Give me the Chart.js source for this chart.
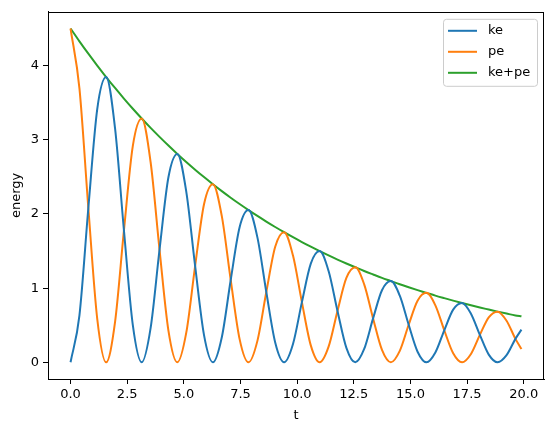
<!DOCTYPE html>
<html>
<head>
<meta charset="utf-8">
<script src="https://cdn.jsdelivr.net/npm/chart.js@4"></script>
<style>
  html, body { margin: 0; padding: 0; background: #fff; }
  #wrap { width: 554px; height: 432px; }
</style>
</head>
<body>
<div id="wrap"><canvas id="energyChart" width="554" height="432"></canvas></div>
<script>
// sample times (read along the t axis)
const tValues = [0, 0.3927, 0.7854, 1.1781, 1.5708, 1.9635, 2.3562, 2.7489, 3.1416, 3.5343,
  3.927, 4.3197, 4.7124, 5.1051, 5.4978, 5.8905, 6.2832, 6.6759, 7.0686, 7.4613,
  7.854, 8.2467, 8.6394, 9.0321, 9.4248, 9.8175, 10.2102, 10.6029, 10.9956, 11.3883,
  11.781, 12.1737, 12.5664, 12.9591, 13.3518, 13.7445, 14.1372, 14.5299, 14.9226, 15.3153,
  15.708, 16.1007, 16.4934, 16.8861, 17.2788, 17.6715, 18.0642, 18.4569, 18.8496, 19.2423,
  19.635, 19.9];

const keValues = [0, 0.634, 2.080, 3.414, 3.846, 3.156, 1.778, 0.501, 0, 0.463,
  1.519, 2.494, 2.809, 2.305, 1.299, 0.366, 0, 0.338, 1.110, 1.821,
  2.052, 1.684, 0.948, 0.267, 0, 0.247, 0.811, 1.330, 1.499, 1.230,
  0.693, 0.195, 0, 0.180, 0.592, 0.972, 1.095, 0.898, 0.506, 0.143,
  0, 0.132, 0.432, 0.710, 0.800, 0.656, 0.370, 0.104, 0, 0.096,
  0.316, 0.44];

const peValues = [4.5, 3.693, 2.080, 0.586, 0, 0.542, 1.778, 2.918, 3.287, 2.697,
  1.519, 0.428, 0, 0.396, 1.298, 2.131, 2.401, 1.970, 1.110, 0.313,
  0, 0.289, 0.948, 1.557, 1.754, 1.439, 0.811, 0.228, 0, 0.211,
  0.693, 1.137, 1.281, 1.051, 0.592, 0.167, 0, 0.154, 0.506, 0.830,
  0.936, 0.768, 0.432, 0.122, 0, 0.113, 0.370, 0.607, 0.683, 0.561,
  0.316, 0.18];

const totalValues = [4.5, 4.327, 4.160, 4.000, 3.846, 3.698, 3.555, 3.418, 3.287, 3.160,
  3.039, 2.922, 2.809, 2.701, 2.597, 2.497, 2.401, 2.308, 2.219, 2.134,
  2.052, 1.973, 1.897, 1.824, 1.754, 1.686, 1.621, 1.559, 1.499, 1.441,
  1.385, 1.332, 1.281, 1.231, 1.184, 1.138, 1.095, 1.052, 1.012, 0.973,
  0.936, 0.899, 0.865, 0.832, 0.800, 0.769, 0.739, 0.711, 0.683, 0.657,
  0.632, 0.62];

const xTicks = [0, 2.5, 5, 7.5, 10, 12.5, 15, 17.5, 20];
const yTicks = [0, 1, 2, 3, 4];

const seriesNames = ["ke", "pe", "ke+pe"];
const seriesColors = ["#1f77b4", "#ff7f0e", "#2ca02c"];

const FONT = "'DejaVu Sans', sans-serif";
const FSIZE = 13;

function toPoints(ys) {
  return tValues.map((t, i) => ({ x: t, y: ys[i] }));
}

// matplotlib-style box around the plot area
const framePlugin = {
  id: "frame",
  afterDraw(chart) {
    const { ctx, chartArea: a } = chart;
    ctx.save();
    ctx.strokeStyle = "#000";
    ctx.lineWidth = 1;
    ctx.strokeRect(Math.round(a.left) + 0.5, Math.round(a.top) + 0.5,
      Math.round(a.right - a.left) - 1, Math.round(a.bottom - a.top));
    ctx.restore();
  }
};

// legend box in the upper right corner
const legendPlugin = {
  id: "innerLegend",
  afterDraw(chart) {
    const { ctx, chartArea: a } = chart;
    const sets = chart.data.datasets;
    const boxW = 94, rowH = 21, boxH = rowH * sets.length + 4;
    const x0 = a.right - 7 - boxW, y0 = a.top + 7;
    ctx.save();
    ctx.fillStyle = "rgba(255,255,255,0.8)";
    ctx.strokeStyle = "#cccccc";
    ctx.lineWidth = 1;
    ctx.beginPath();
    ctx.roundRect(x0 + 0.5, y0 + 0.5, boxW, boxH, 3);
    ctx.fill();
    ctx.stroke();
    ctx.font = FSIZE + "px " + FONT;
    ctx.textBaseline = "middle";
    sets.forEach((ds, i) => {
      const yy = y0 + 12 + i * rowH;
      ctx.strokeStyle = ds.borderColor;
      ctx.lineWidth = 2;
      ctx.beginPath();
      ctx.moveTo(x0 + 5, yy);
      ctx.lineTo(x0 + 34, yy);
      ctx.stroke();
      ctx.fillStyle = "#000";
      ctx.fillText(ds.label, x0 + 45, yy);
    });
    ctx.restore();
  }
};

const datasets = [keValues, peValues, totalValues].map((vals, i) => ({
  label: seriesNames[i],
  data: toPoints(vals),
  borderColor: seriesColors[i],
  backgroundColor: seriesColors[i],
  borderWidth: 2,
  pointRadius: 0,
  fill: false,
  cubicInterpolationMode: "monotone"
}));

new Chart(document.getElementById("energyChart").getContext("2d"), {
  type: "line",
  data: { datasets },
  options: {
    responsive: false,
    animation: false,
    layout: { padding: { top: 9, right: 10, left: 0, bottom: 0 } },
    plugins: { legend: { display: false }, tooltip: { enabled: false } },
    scales: {
      x: {
        type: "linear",
        min: -0.995,
        max: 20.895,
        afterBuildTicks: s => { s.ticks = xTicks.map(v => ({ value: v })); },
        afterFit: s => { s.height = 53; },
        ticks: {
          color: "#000",
          font: { family: FONT, size: FSIZE },
          padding: 3,
          maxRotation: 0,
          autoSkip: false,
          callback: v => Number(v).toFixed(1)
        },
        grid: { drawOnChartArea: false, drawTicks: true, tickLength: 5, color: "#000" },
        border: { display: true, color: "#000" },
        title: { display: true, text: "t", color: "#000", font: { family: FONT, size: FSIZE }, padding: { top: 0, bottom: 9 } }
      },
      y: {
        type: "linear",
        min: -0.225,
        max: 4.725,
        afterBuildTicks: s => { s.ticks = yTicks.map(v => ({ value: v })); },
        afterFit: s => { s.width = 48; },
        ticks: {
          color: "#000",
          font: { family: FONT, size: FSIZE },
          padding: 4,
          autoSkip: false,
          callback: v => String(v)
        },
        grid: { drawOnChartArea: false, drawTicks: true, tickLength: 5, color: "#000" },
        border: { display: true, color: "#000" },
        title: { display: true, text: "energy", color: "#000", font: { family: FONT, size: FSIZE }, padding: { top: 9, bottom: 0 } }
      }
    }
  },
  plugins: [framePlugin, legendPlugin]
});
</script>
</body>
</html>
